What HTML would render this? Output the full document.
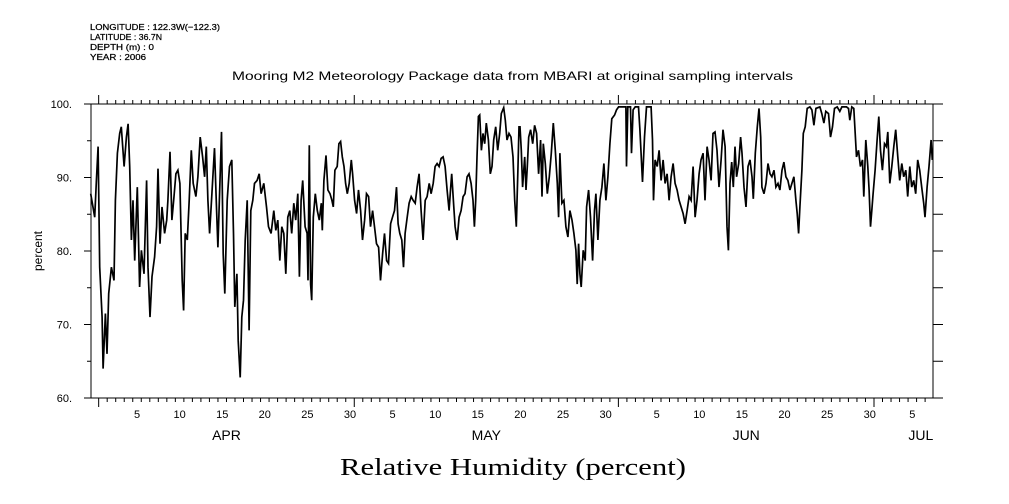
<!DOCTYPE html>
<html><head><meta charset="utf-8"><style>
body{margin:0;background:#fff;}
svg{display:block;font-family:"Liberation Sans",sans-serif;}
</style></head><body>
<svg id="chart" width="1009" height="504" viewBox="0 0 1009 504">
<g font-size="8.5" fill="#000" stroke="#000" stroke-width="0.25">
<text x="90" y="30" textLength="130" lengthAdjust="spacingAndGlyphs">LONGITUDE : 122.3W(−122.3)</text>
<text x="90" y="40" textLength="72" lengthAdjust="spacingAndGlyphs">LATITUDE : 36.7N</text>
<text x="90" y="50" textLength="64" lengthAdjust="spacingAndGlyphs">DEPTH (m) : 0</text>
<text x="90" y="60" textLength="56" lengthAdjust="spacingAndGlyphs">YEAR : 2006</text>
</g>
<text x="232" y="80" font-size="12" textLength="561" lengthAdjust="spacingAndGlyphs">Mooring M2 Meteorology Package data from MBARI  at original sampling intervals</text>
<text x="42" y="251" text-anchor="middle" font-size="12" transform="rotate(-90 42 251)">percent</text>
<text x="340" y="475" font-size="24" font-family="Liberation Serif, serif" textLength="346" lengthAdjust="spacingAndGlyphs">Relative Humidity (percent)</text>
<g id="axes"></g>
<path id="series" fill="none" stroke="#000" stroke-width="1.7" stroke-linejoin="miter"/>
</svg>
<script>
const days=[-0.43,0.04,0.23,0.43,0.62,0.9,1.02,1.29,1.48,1.68,2.0,2.3,2.46,2.7,2.97,3.16,3.48,3.75,3.95,4.14,4.34,4.53,4.73,5.04,5.31,5.51,5.82,6.13,6.29,6.52,6.76,7.07,7.3,7.46,7.7,7.93,8.24,8.48,8.63,8.87,9.1,9.34,9.57,9.8,10.04,10.31,10.47,10.66,10.9,11.13,11.37,11.6,11.91,12.15,12.42,12.7,12.93,13.13,13.32,13.52,13.79,14.1,14.34,14.49,14.73,14.92,15.12,15.31,15.59,15.86,16.13,16.33,16.48,16.72,16.88,17.11,17.3,17.5,17.7,17.93,18.16,18.36,18.59,18.79,19.1,19.34,19.57,19.88,20.2,20.43,20.74,21.05,21.29,21.52,21.76,21.99,22.23,22.46,22.7,22.93,23.16,23.4,23.63,23.87,24.06,24.26,24.45,24.73,24.96,
25.07,25.22,25.38,25.5,25.69,25.93,26.16,26.4,26.63,26.75,26.94,27.18,27.41,27.65,27.88,28.04,28.23,28.5,28.7,28.9,29.09,29.29,29.48,29.68,29.91,30.15,30.3,30.54,30.77,31.0,31.24,31.47,31.71,31.94,32.18,32.41,32.65,32.88,33.11,33.35,33.58,33.82,34.05,34.29,34.52,34.76,34.99,35.22,35.46,35.65,35.85,36.08,36.28,36.47,36.71,36.94,37.18,37.41,37.65,37.88,38.11,38.35,38.58,38.82,39.05,39.29,39.52,39.76,39.99,40.22,40.46,40.69,40.93,41.16,41.4,41.63,41.79,41.94,42.18,42.33,42.57,42.8,43.04,43.27,43.5,43.74,43.97,44.21,44.44,44.6,44.75,44.91,45.07,45.22,45.42,45.61,45.81,46.0,46.24,46.47,46.67,46.86,47.1,47.33,47.57,47.76,48.04,48.23,48.43,48.66,48.9,49.13,49.33,49.52,49.72,49.83,
49.95,50.11,50.26,50.5,50.66,50.81,50.97,51.2,51.44,51.67,51.9,52.14,52.37,52.53,52.69,52.92,53.16,53.39,53.62,53.86,54.09,54.33,54.48,54.64,54.87,55.11,55.34,55.58,55.81,56.05,56.28,56.51,56.67,56.83,56.98,57.14,57.37,57.61,57.77,58.0,58.23,58.47,58.7,58.86,59.09,59.33,59.56,59.8,60.03,60.27,60.5,60.73,61.05,61.28,61.52,62.06,62.38,62.45,62.61,62.92,63.04,63.23,63.47,63.86,64.02,64.33,64.56,64.8,65.34,65.5,65.62,65.81,66.05,66.28,66.51,66.75,66.98,67.22,67.45,67.69,67.92,68.16,68.39,68.62,68.86,69.09,69.33,69.56,69.8,70.03,70.27,70.5,70.73,70.97,71.2,71.44,71.67,71.91,72.14,72.38,72.61,72.84,73.08,73.31,73.55,73.78,74.02,74.25,74.41,
74.6,74.8,74.99,75.19,75.38,75.62,75.85,76.01,76.24,76.48,76.71,76.95,77.18,77.34,77.57,77.8,78.0,78.2,78.35,78.59,78.82,79.06,79.29,79.52,79.76,79.99,80.23,80.46,80.7,80.93,81.16,81.4,81.63,81.87,82.1,82.34,82.49,82.65,82.8,83.04,83.2,83.43,83.66,83.98,84.21,84.45,84.68,85.15,85.38,85.62,85.85,86.16,86.4,86.63,86.87,87.18,87.49,87.73,88.27,88.51,88.66,88.9,89.13,89.29,89.45,89.68,89.91,90.15,90.3,90.54,90.77,90.93,91.09,91.24,91.4,91.63,91.87,92.06,92.26,92.49,92.73,92.96,93.12,93.35,93.59,93.82,94.05,94.29,94.52,94.76,94.99,95.23,95.46,95.7,95.93,96.16,96.4,96.63,96.87,97.1,97.34,97.49,97.73,97.96,98.2,98.35];
const humidity=[87.8,84.6,89.6,94.2,77.8,71,64,71.5,66,74.2,77.8,76,86.9,93.3,96,96.9,91.5,95.5,97.3,91.5,81.5,86.9,78.7,88.7,75.1,80.1,76.9,89.6,77.8,71,76.5,79.2,83.3,91.2,81,86,82.4,84.2,86.9,93.5,84.2,87.4,90.5,91,89.2,76,71.9,82.4,81.5,86.9,93.7,89.2,87.4,90.1,95.5,92.8,90.1,94.2,86.9,82.4,87.8,94,85.5,80.5,89.2,96.2,79.6,74.2,86.9,91.5,92.4,82.4,72.4,76.9,67.8,62.8,71,73.3,81.5,86.9,69.2,85.5,86.9,89.2,89.6,90.5,87.8,89.2,86,83.3,82.4,85.5,82.8,84.2,78.7,83.3,82.4,76.9,84.6,85.5,82.4,86.5,84.2,87.8,76.5,86.9,89.6,83.3,82.4,
76,94.4,75.5,73.3,84.6,87.8,85.5,84.2,86.5,82.8,89.6,93,88.3,87.8,86.9,86,91,91.5,94.6,94.9,92.8,91.5,89.2,87.8,89.2,92.4,90.5,86.9,85.1,88.3,85.5,81.5,84.2,87.8,87.4,83.3,85.5,83.3,81,80.5,76,79.6,82.4,78.7,78.3,83.7,84.6,85.5,88.7,83.7,82.4,81.5,77.8,82.4,84.6,86.5,87.4,86.9,86.5,88.7,90.5,85.5,81.5,86.9,87.4,89.2,87.8,89.2,91.5,91.9,91.5,92.6,92.8,91.5,88.3,85.5,88.3,90.5,86,83.3,81.5,84.6,85.5,87.4,87.8,90.1,90.5,89.2,86.9,83.3,86.9,92.8,98.3,98.5,93.7,96,94.6,97.4,95.1,90.5,91.5,95.1,96.9,93.7,96,98.7,99.5,97.8,95.1,96,95.5,92.8,86.9,83.3,91.5,96.9,
96.9,93.7,88.7,92.8,88.3,91.5,95.5,96.5,94.6,97.1,96,90.5,95.1,87.4,94.6,91.9,87.8,90.1,93.3,97.4,93.7,89.2,84.6,93.3,86.5,86.9,83.3,81.9,85.5,84.2,82.4,80.1,75.5,81,76.9,75.1,80.1,78.7,86,88.3,84.6,78.7,85.5,87.8,81.5,86.9,88.7,91.9,86.9,90.1,94.6,98,98.5,99.2,99.6,99.6,99.6,91.5,99.6,99.6,93.3,99.2,99.6,99.6,96.5,89.4,95.5,99.6,99.6,95.1,86.9,92.4,91.5,93.7,89.6,92.4,89.2,90.5,86.9,90.1,91.9,89.2,88.3,86.9,86,85.1,83.7,85.5,87.4,86.9,91.5,84.6,86.9,90.5,92.4,93.3,86.9,94.2,92.4,89.6,96,96.2,93.7,88.7,92.4,96.5,94.2,83.3,80.1,
89.2,92.1,88.7,94.2,90.1,91.9,95.5,93.3,88.7,86,91.5,92.4,90.1,87.1,93.3,96.9,99.4,95.5,88.7,87.8,89.2,91.9,90.5,90.1,91,88.7,89.2,88.3,91,92.1,90.1,89.6,88.3,89.2,90.1,86.9,85.1,82.4,86,91,96,96.9,99.4,99.6,99.2,97.1,99.4,99.6,98.7,97.4,99,98.7,95.5,96.9,99.4,99.6,99,99.6,99.6,99.4,97.8,99.6,99.4,96,92.8,93.7,91.5,92.4,87.4,95.1,91.5,88.3,83.3,85.5,87.8,91,95.1,98.3,93.7,91,94.6,94.2,96.2,89.2,91.5,94.2,96.5,92.8,89.6,91.9,90.1,91,87.4,91.5,88.7,89.6,87.8,92.4,91,88.7,86.5,84.6,88.7,91.5,95.1,92.4];
const yTicks=[60,70,80,90,100];
const yMinor=[65,75,85,95];
const dayLabels=[5,10,15,20,25,30,5,10,15,20,25,30,5,10,15,20,25,30,5];
const dayLabelPos=[5,10,15,20,25,30,35,40,45,50,55,60,66,71,76,81,86,91,96];
const months=["APR","MAY","JUN","JUL"];
const monthStart=[1,31,62,92];
const monthLabelDay=[15.5,46,76.5,97];

const L=91,R=933,T=104,B=398;
const xs=d=>L+(d+0.4)*8.52;
const ys=v=>B-(v-60)*(B-T)/40;
const NS="http://www.w3.org/2000/svg";
const ax=document.getElementById('axes');
function el(tag,attrs,txt){const e=document.createElementNS(NS,tag);for(const k in attrs)e.setAttribute(k,attrs[k]);if(txt!==undefined)e.textContent=txt;ax.appendChild(e);return e;}
const frame=el('rect',{x:L,y:T,width:R-L,height:B-T,fill:'none',stroke:'#000','stroke-width':1});


for(let d=0.5;xs(d)<=R;d+=1){
  const x=xs(d);const isM=monthStart.some(m=>Math.abs(m-0.5-d)<0.01);
  if(x<L)continue;
  const len=isM?9:4;
  const t1=el('line',{x1:x,x2:x,y1:B,y2:B+len,stroke:'#000'});
  
  
  const t2=el('line',{x1:x,x2:x,y1:T,y2:T-(isM?9:4),stroke:'#000'});
  
  
}
dayLabels.forEach((lab,i)=>{
  const t=el('text',{x:xs(dayLabelPos[i]),y:418,'text-anchor':'middle','font-size':11},String(lab));
  
  
});
months.forEach((m,i)=>{
  const t=el('text',{x:xs(monthLabelDay[i]),y:440,'text-anchor':'middle','font-size':14},m);
  
  
});
yTicks.forEach(v=>{
  const y=ys(v);
  const a=el('line',{x1:L-7,x2:L,y1:y,y2:y,stroke:'#000'});
  
  
  const b=el('line',{x1:R,x2:R+10,y1:y,y2:y,stroke:'#000'});
  
  
  const t=el('text',{x:72,y:y+4,'text-anchor':'end','font-size':11},v+'.');
  
  
});
yMinor.forEach(v=>{
  const y=ys(v);
  const a=el('line',{x1:L-4,x2:L,y1:y,y2:y,stroke:'#000'});
  
  
  const b=el('line',{x1:R,x2:R+10,y1:y,y2:y,stroke:'#000'});
  
  
});
let p='';
days.forEach((d,i)=>{p+=(i?'L':'M')+xs(d).toFixed(1)+','+ys(humidity[i]).toFixed(1);});
document.getElementById('series').setAttribute('d',p);
</script>
</body></html>
